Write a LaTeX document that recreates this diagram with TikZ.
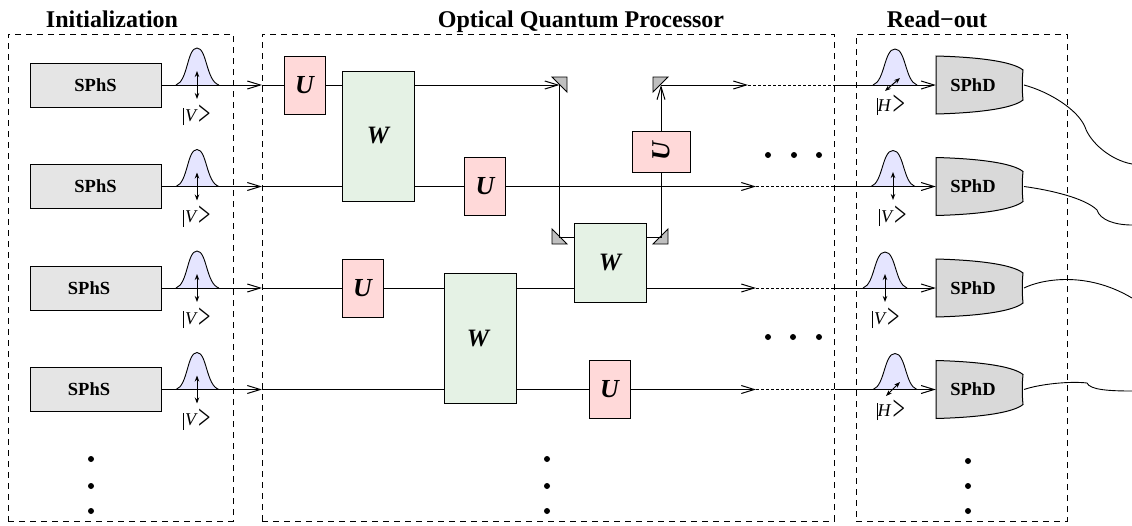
\documentclass[tikz,border=0pt]{standalone}
\usepackage{fontspec}
\setmainfont{Liberation Serif}
\usepackage{graphicx}
\usetikzlibrary{arrows.meta}
\tikzset{
  every picture/.style={x=1pt,y=-1pt},
  stagebox/.style={draw, dashed, dash pattern=on 6pt off 5pt, line width=0.8pt},
  stagetitle/.style={anchor=base, inner sep=0pt, font=\fontsize{24}{26}\selectfont\bfseries},
  srcbox/.style={draw, line width=1pt, fill=black!10, minimum width=131pt, minimum height=44pt, inner sep=0pt, font=\fontsize{18.5}{20}\selectfont\bfseries},
  ubox/.style={draw, line width=1pt, fill=red!15, minimum width=41pt, minimum height=58pt, inner sep=0pt, font=\fontsize{26}{28}\selectfont\bfseries\itshape},
  wbox/.style={draw, line width=1pt, fill=green!50!black!10, minimum width=72pt, inner sep=0pt, font=\fontsize{25}{27}\selectfont\bfseries\itshape},
  detlabel/.style={minimum width=74pt, minimum height=58pt, inner sep=0pt, font=\fontsize{18.5}{20}\selectfont\bfseries},
  pollabel/.style={inner sep=0pt, font=\fontsize{18}{20}\selectfont\itshape},
  beam/.style={line width=1pt},
  beamto/.style={beam, -{Straight Barb[length=13pt,width=8pt]}},
  dotted beam/.style={line width=1pt, dash pattern=on 2.5pt off 2.5pt},
  pulse/.style={draw, line width=0.9pt, fill=blue!10},
  polarrow/.style={line width=1pt, {Stealth[length=6pt,width=4.5pt]}-{Stealth[length=6pt,width=4.5pt]}},
  mirror/.style={draw, line width=0.9pt, fill=black!25},
  wire/.style={line width=0.9pt},
  dotmark/.style={circle, fill=black, inner sep=0pt, minimum size=6pt}
}
\newcommand{\ketclose}{\kern2pt\raisebox{-4pt}{\scalebox{1.3}[2.1]{\textup{\fontsize{17}{17}\selectfont >}}}}
\newcommand{\ketV}{\rule[-4pt]{0.7pt}{17pt}\kern1pt V\ketclose}
\newcommand{\ketH}{\rule[-4pt]{0.7pt}{17pt}H\ketclose}
\begin{document}
\begin{tikzpicture}
  \useasboundingbox (0,0) rectangle (1132,525);

  % stages
  \node[stagebox, minimum width=225pt, minimum height=487pt, inner sep=0pt] (Init) at (120.5,277.5) {};
  \node[stagebox, minimum width=572pt, minimum height=487pt, inner sep=0pt] (Proc) at (548,277.5) {};
  \node[stagebox, minimum width=211pt, minimum height=487pt, inner sep=0pt] (Read) at (961.5,277.5) {};
  \node[stagetitle] (InitTitle) at (112,27) {Initialization};
  \node[stagetitle] (ProcTitle) at (581,27) {Optical Quantum Processor};
  \node[stagetitle] (ReadTitle) at (937,27) {Read−out};

  % sources and their pulses
  \foreach \i/\y/\s in {1/85/0, 2/186.5/0, 3/288/-13, 4/389.5/-13} {
    \node[srcbox] (Src\i) at (95.5,\y) {\hspace*{\s pt}SPhS};
    \coordinate (In\i) at (262,\y);
    \path[pulse] (176,\y) .. controls (188,\y-4) and (187,\y-37) .. (197,\y-37)
      .. controls (207,\y-37) and (206,\y-4) .. (219,\y);
    \draw[polarrow] (197,\y-14) -- (197,\y+14);
    \node[pollabel] (Pol\i) at (197,\y+30) {\ketV};
    \draw[beamto] (Src\i) -- (In\i);
  }

  % read-out side
  \foreach \i/\y/\x in {1/85/895, 2/186.5/893, 3/288/885, 4/389.5/895} {
    \coordinate (Out\i) at (1024,\y);
    \coordinate (Exit\i) at (835,\y);
    \path[pulse] (\x-22,\y) .. controls (\x-10,\y-4) and (\x-11,\y-36) .. (\x,\y-36)
      .. controls (\x+11,\y-36) and (\x+10,\y-4) .. (\x+22,\y);
    \path[draw, line width=1pt, fill=black!15] (936,\y-29) .. controls (975,\y-28) and (1012,\y-24) .. (1023,\y-15)
      .. controls (1022,\y-5) and (1022,\y+5) .. (1023,\y+15)
      .. controls (1012,\y+24) and (975,\y+28) .. (936,\y+29) -- cycle;
    \node[detlabel] (Det\i) at (973,\y) {SPhD};
    \draw[beamto] (Exit\i) -- (Det\i.west);
  }
  \draw[polarrow] (885,91) -- (900,78);
  \draw[polarrow] (893,172) -- (893,200);
  \draw[polarrow] (885,274) -- (885,302);
  \draw[polarrow] (886,396) -- (900,382);
  \node[pollabel] (PolA) at (891,105) {\ketH};
  \node[pollabel] (PolB) at (893,216) {\ketV};
  \node[pollabel] (PolC) at (886,318) {\ketV};
  \node[pollabel] (PolD) at (891,410) {\ketH};

  % gates
  \node[wbox, minimum height=130pt] (W1) at (378,136) {W};
  \node[wbox, minimum height=130pt] (W2) at (480,338) {\hspace*{-4pt}W};
  \node[wbox, minimum height=79pt] (W3) at (610,262.5) {W};
  \node[ubox] (U1) at (304.5,85) {U};
  \node[ubox] (U2) at (485,186.5) {U};
  \node[ubox] (U3) at (362.5,288) {U};
  \node[ubox] (U4) at (609.5,389.5) {U};
  \node[ubox, minimum width=58pt, minimum height=41pt] (U5) at (661,151.5) {\rotatebox{90}{U}};

  % mirrors
  \filldraw[mirror] (552,77) -- (567,77) -- (567,92) -- cycle;
  \filldraw[mirror] (653,77) -- (668,77) -- (653,92) -- cycle;
  \filldraw[mirror] (552,229) -- (552,244) -- (567,244) -- cycle;
  \filldraw[mirror] (668,229) -- (668,244) -- (653,244) -- cycle;
  \coordinate (M1) at (559.5,85);
  \coordinate (M2) at (661,85);
  \coordinate (M3) at (559.5,237);
  \coordinate (M4) at (661,237);

  % ends of the beams inside the processor
  \coordinate (End1) at (748,85);
  \coordinate (End2) at (756,186.5);
  \coordinate (End3) at (756,288);
  \coordinate (End4) at (756,389.5);

  % beams
  \draw[beam] (In1) -- (U1);
  \draw[beam] (U1) -- (U1 -| W1.west);
  \draw[beamto] (W1.east |- M1) -- (M1);
  \draw[beam] (M1) -- (M3) -- (W3.west |- M3);
  \draw[beam] (W3.east |- M4) -- (M4) -- (U5);
  \draw[beamto] (U5) -- (M2);
  \draw[beamto] (M2) -- (End1);
  \draw[beam] (In2) -- (In2 -| W1.west);
  \draw[beam] (W1.east |- U2) -- (U2);
  \draw[beamto] (U2) -- (End2);
  \draw[beam] (In3) -- (U3);
  \draw[beam] (U3) -- (U3 -| W2.west);
  \draw[beam] (W2.east |- End3) -- (End3 -| W3.west);
  \draw[beamto] (End3 -| W3.east) -- (End3);
  \draw[beam] (In4) -- (In4 -| W2.west);
  \draw[beam] (W2.east |- U4) -- (U4);
  \draw[beamto] (U4) -- (End4);
  \foreach \i in {1,2,3,4} {
    \draw[dotted beam] (End\i) -- (Exit\i);
  }

  % detector wires
  \coordinate (Tail1) at (1132,164);
  \coordinate (Tail2) at (1132,225);
  \coordinate (Tail3) at (1132,298);
  \coordinate (Tail4) at (1132,391);
  \draw[wire] (Out1) .. controls (1050,92) and (1078,110) .. (1085,127)
    .. controls (1090,142) and (1110,160) .. (Tail1);
  \draw[wire] (Out2) .. controls (1050,190) and (1085,198) .. (1097,210)
    .. controls (1100,220) and (1115,225) .. (Tail2);
  \draw[wire] (Out3) .. controls (1040,280) and (1085,270) .. (Tail3);
  \draw[wire] (Out4) .. controls (1040,384) and (1070,381) .. (1087,383)
    .. controls (1090,390) and (1110,391) .. (Tail4);

  % dots
  \foreach \n/\x/\y in {a/768/155, b/794/155, c/819/155, d/768/337, e/793/337, f/819/337,
    g/91/459, h/91/486, i/91/511, j/547/459, k/547/486, l/547/511, m/968/461, n/968/486, o/968/511} {
    \node[dotmark] (Dot\n) at (\x,\y) {};
  }
\end{tikzpicture}
\end{document}
